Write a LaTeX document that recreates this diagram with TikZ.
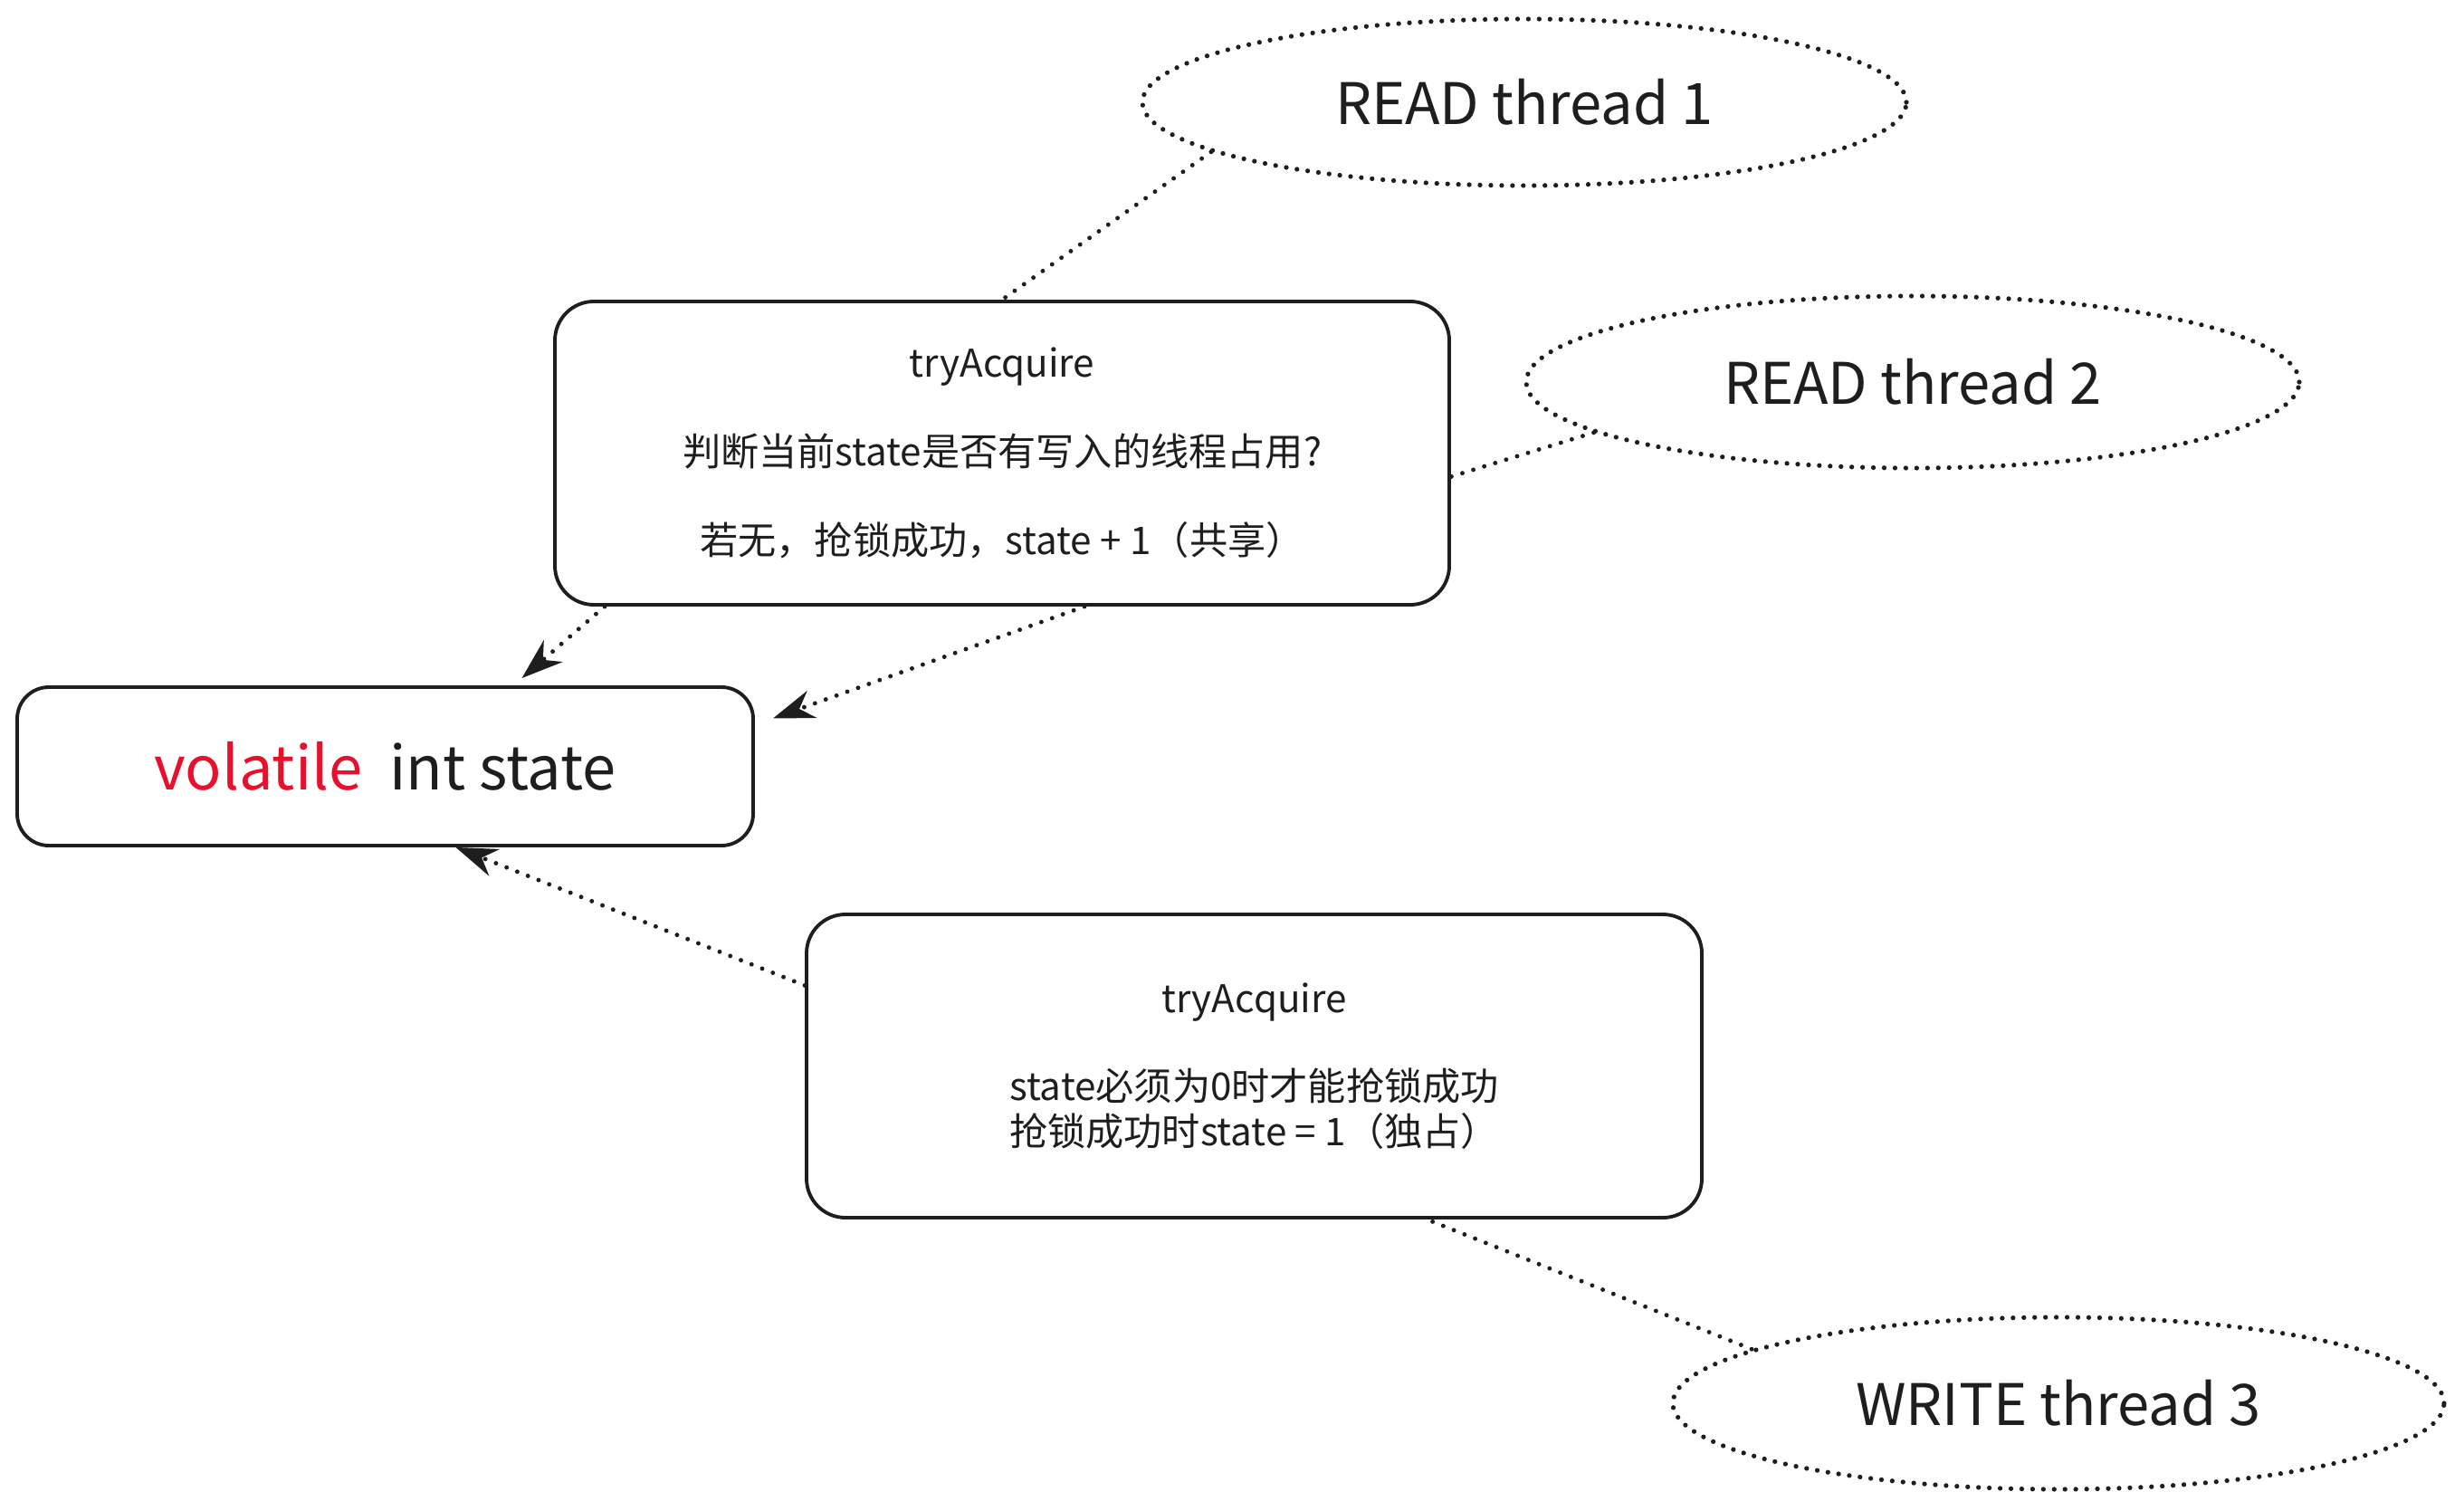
\documentclass[tikz,border=0pt]{standalone}
\usepackage{fontspec}
\setmainfont{Noto Sans CJK SC}
\usetikzlibrary{arrows.meta, shapes.geometric}
\definecolor{keyred}{HTML}{E8112D}
\definecolor{ink}{HTML}{1E1E1E}

\begin{document}
\begin{tikzpicture}
        [every node/.style={draw=ink, line width=1.1pt, align=center, text=ink},
         box/.style={rectangle, rounded corners=0.43cm, inner sep=0},
         thread/.style={ellipse, inner sep=0, dash pattern=on 0pt off 3.4pt, line cap=round, line width=1.5pt, font=\fontsize{18}{22}\selectfont},
         link/.style={draw=ink, line width=1.4pt, dash pattern=on 0pt off 3.6pt, line cap=round},
         arrowlink/.style={link, -{Stealth[length=13pt, width=9pt, line cap=butt]}}]

        \useasboundingbox (0,0) rectangle (27.22,-16.69);

        \node[box, minimum width=9.88cm, minimum height=3.35cm, font=\fontsize{12}{28}\selectfont] (box1) at (11.07, -5.005)
            {tryAcquire\\判断当前state是否有写入的线程占用?\\若无，抢锁成功，state + 1（共享）};
        \node[box, rounded corners=0.35cm, minimum width=8.13cm, minimum height=1.75cm, font=\fontsize{19}{22}\selectfont] (state) at (4.255, -8.465)
            {\textcolor{keyred}{volatile}\ \ int state};
        \node[box, minimum width=9.89cm, minimum height=3.35cm, font=\fontsize{12}{14.2}\selectfont] (box2) at (13.855, -11.775)
            {tryAcquire\\[13.6pt]state必须为0时才能抢锁成功\\抢锁成功时state = 1（独占）};

        \node[thread, minimum width=8.44cm, minimum height=1.84cm] (r1) at (16.84, -1.13) {READ thread 1};
        \node[thread, minimum width=8.54cm, minimum height=1.90cm] (r2) at (21.13, -4.22) {READ thread 2};
        \node[thread, minimum width=8.52cm, minimum height=1.90cm] (w3) at (22.74, -15.50) {WRITE thread 3};

        \draw[link] (r1.189) -- (box1.north);
        \draw[link] (r2.189) -- (box1.-3.4);
        \draw[link] (w3.170) -- ([xshift=1.91cm]box2.south);

        \draw[arrowlink] ([xshift=-4.39cm]box1.south) -- ([xshift=1.51cm, yshift=0.08cm]state.north);
        \draw[arrowlink] ([xshift=0.91cm]box1.south) -- ([xshift=0.2cm, yshift=0.53cm]state.east);
        \draw[arrowlink] ([yshift=0.89cm]box2.west) -- ([xshift=0.78cm]state.south);

      \end{tikzpicture}
\end{document}
